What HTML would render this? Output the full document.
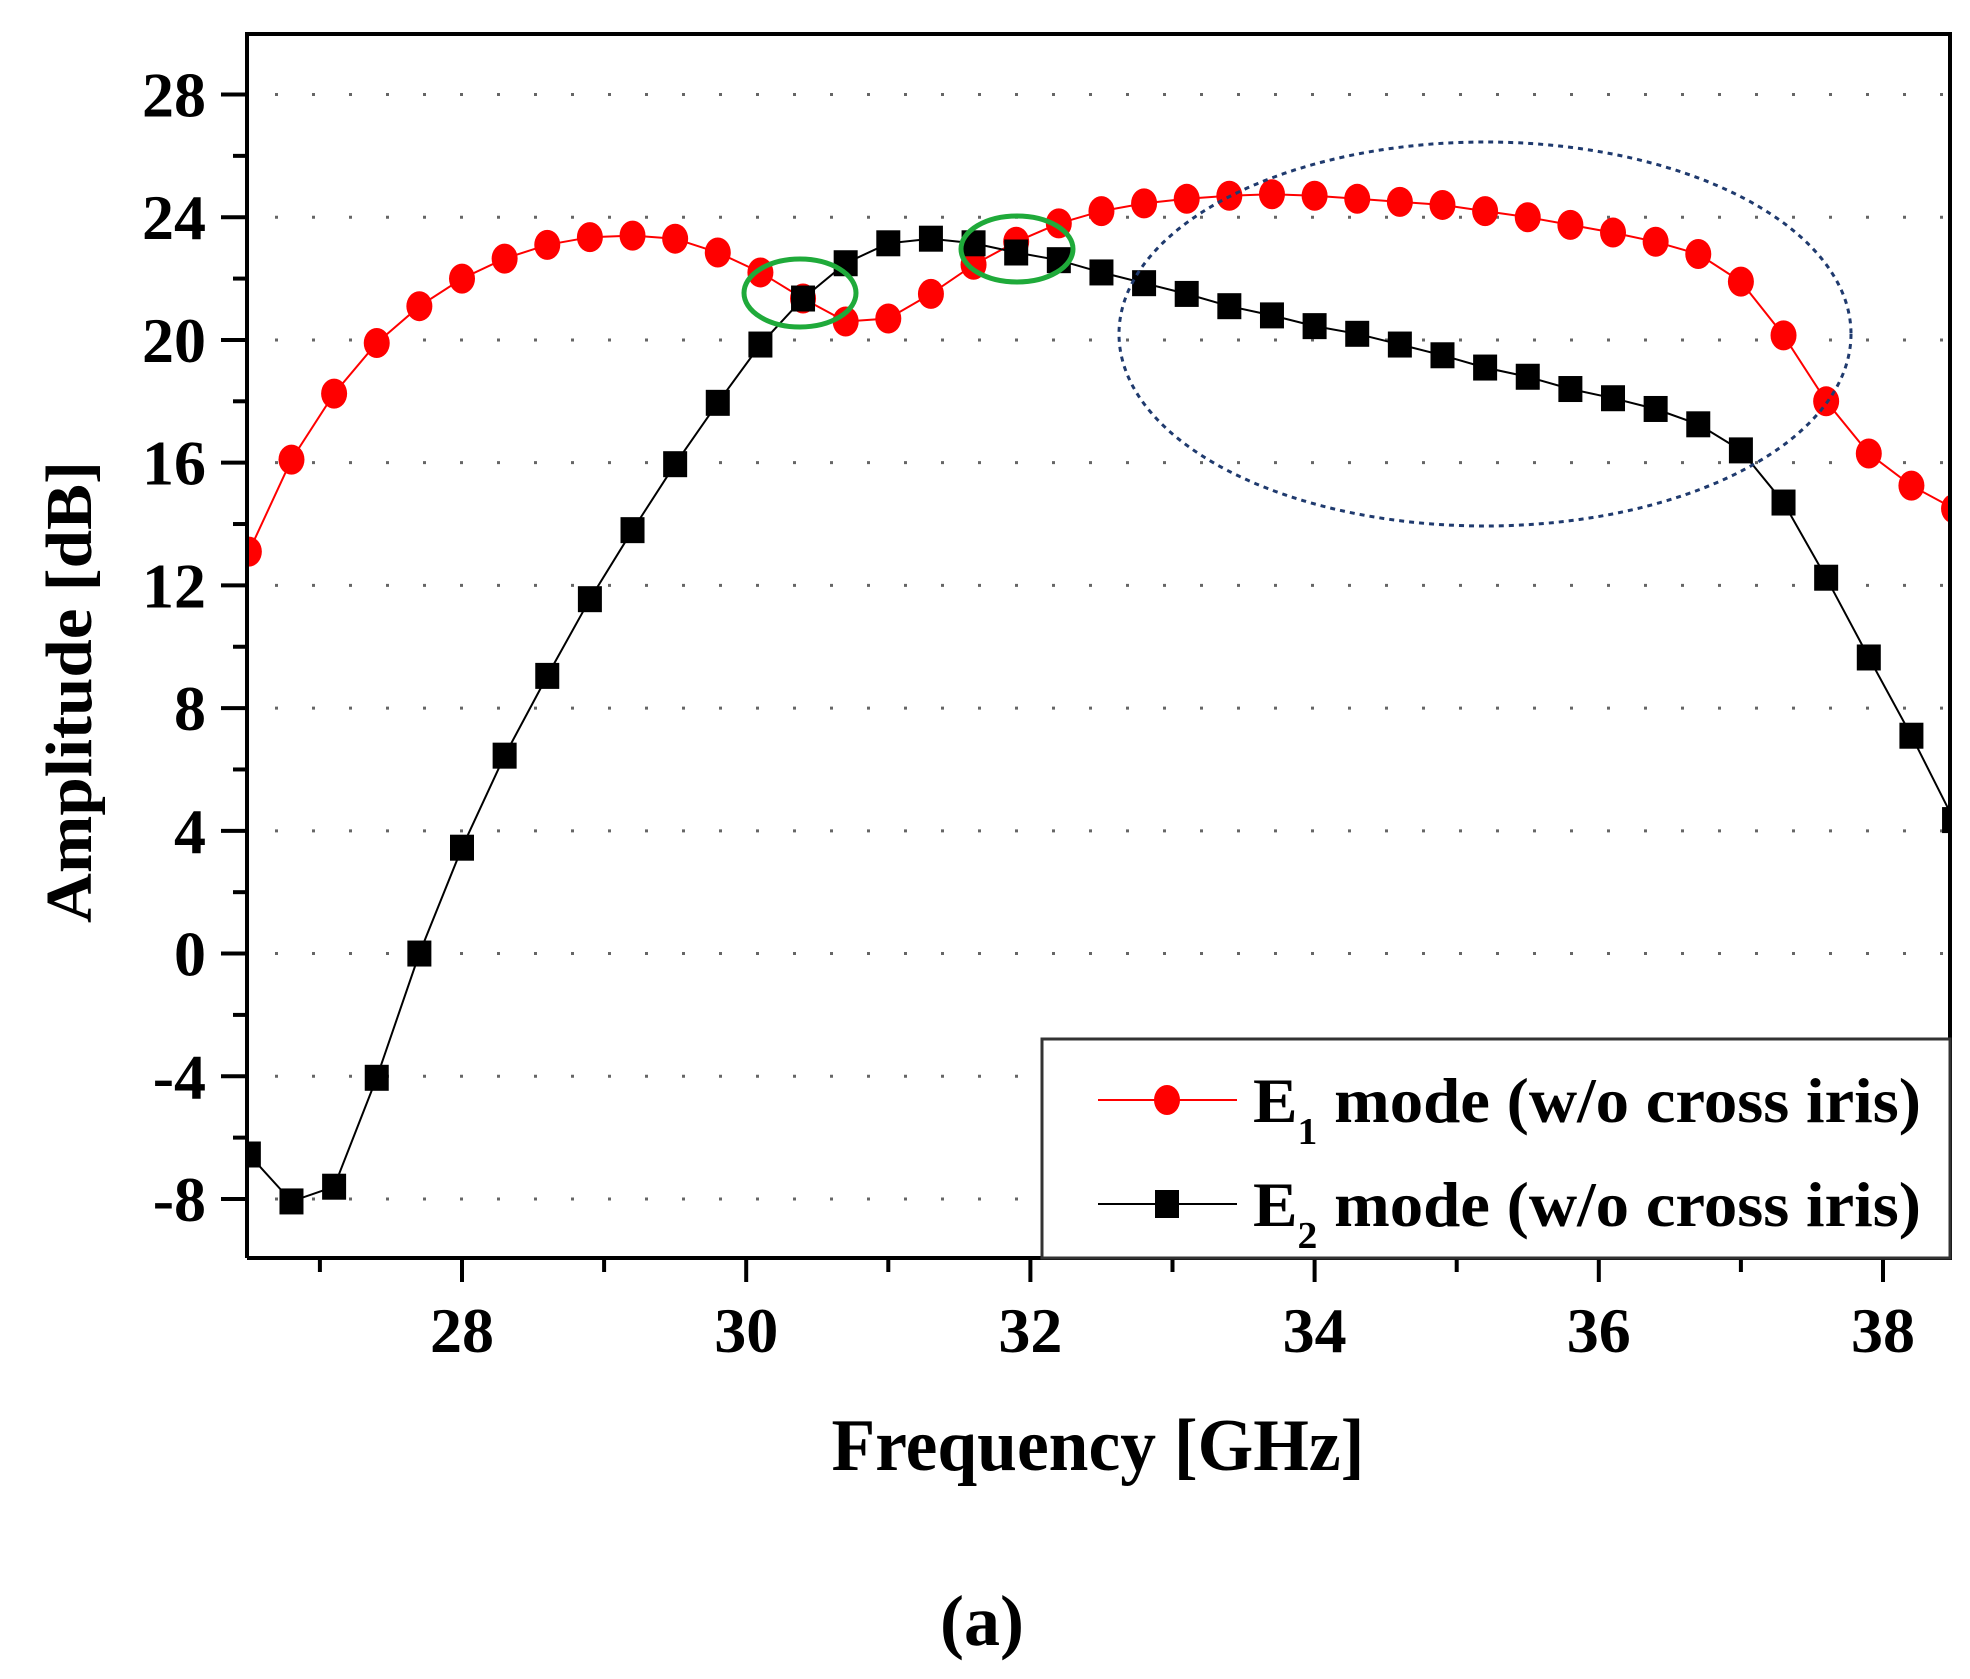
<!DOCTYPE html>
<html><head><meta charset="utf-8"><style>
html,body{margin:0;padding:0;background:#fff;}
svg{display:block;}
text{font-family:"Liberation Serif",serif;font-weight:bold;fill:#000;}
</style></head><body>
<svg id="chart" width="1970" height="1679" viewBox="0 0 1970 1679" xmlns="http://www.w3.org/2000/svg">
<defs><clipPath id="plotclip"><rect x="247" y="34" width="1703" height="1224"/></clipPath></defs>
<g id="grid"></g>
<g id="series" clip-path="url(#plotclip)"></g>
<g id="axes"></g>
<ellipse cx="800" cy="293" rx="56" ry="34" fill="none" stroke="#1faa3a" stroke-width="5"/>
<ellipse cx="1017" cy="249" rx="56" ry="33" fill="none" stroke="#1faa3a" stroke-width="5"/>
<ellipse cx="1485" cy="334" rx="366" ry="192" fill="none" stroke="#1f3a6e" stroke-width="3" stroke-dasharray="5,5"/>
<g id="legend">
<rect x="1042" y="1039" width="908" height="219" fill="#fff" stroke="#333" stroke-width="3"/>
<g>
<line x1="1098" y1="1100" x2="1237" y2="1100" stroke="#ff0000" stroke-width="2"/>
<ellipse cx="1167" cy="1100" rx="13" ry="15" fill="#ff0000"/>
<text x="1253" y="1122" font-size="64" textLength="668" lengthAdjust="spacingAndGlyphs">E<tspan font-size="38" dy="22">1</tspan><tspan dy="-22"> mode (w/o cross iris)</tspan></text>
</g>
<g>
<line x1="1098" y1="1204" x2="1237" y2="1204" stroke="#000" stroke-width="2"/>
<rect x="1155" y="1190" width="24" height="28" fill="#000"/>
<text x="1253" y="1226" font-size="64" textLength="668" lengthAdjust="spacingAndGlyphs">E<tspan font-size="38" dy="22">2</tspan><tspan dy="-22"> mode (w/o cross iris)</tspan></text>
</g>
</g>
<text x="69" y="692" font-size="66" text-anchor="middle" transform="rotate(-90 69 692)" textLength="462" lengthAdjust="spacingAndGlyphs" dy="22">Amplitude [dB]</text>
<text x="1098" y="1470" font-size="74" text-anchor="middle" textLength="533" lengthAdjust="spacingAndGlyphs">Frequency [GHz]</text>
<text x="982" y="1645" font-size="72" text-anchor="middle" font-weight="normal">(<tspan font-weight="bold">a</tspan>)</text>
</svg>
<script>
const freqs = [26.5,26.8,27.1,27.4,27.7,28.0,28.3,28.6,28.9,29.2,29.5,29.8,30.1,30.4,30.7,31.0,31.3,31.6,31.9,32.2,32.5,32.8,33.1,33.4,33.7,34.0,34.3,34.6,34.9,35.2,35.5,35.8,36.1,36.4,36.7,37.0,37.3,37.6,37.9,38.2,38.5];
const e1Values = [13.1,16.1,18.25,19.9,21.1,22.0,22.65,23.1,23.35,23.4,23.3,22.85,22.2,21.35,20.6,20.7,21.5,22.45,23.2,23.8,24.2,24.45,24.6,24.7,24.75,24.7,24.6,24.5,24.4,24.2,24.0,23.75,23.5,23.2,22.8,21.9,20.15,18.0,16.3,15.25,14.5];
const e2Values = [-6.55,-8.08,-7.6,-4.05,0.0,3.45,6.45,9.05,11.55,13.8,15.95,17.95,19.85,21.35,22.5,23.15,23.3,23.15,22.85,22.6,22.2,21.85,21.5,21.1,20.8,20.45,20.2,19.85,19.5,19.1,18.8,18.4,18.1,17.75,17.25,16.4,14.7,12.25,9.65,7.1,4.35];
const yTicks = [-8,-4,0,4,8,12,16,20,24,28];
const xTicks = [28,30,32,34,36,38];

const NS = "http://www.w3.org/2000/svg";
const L = 247, R = 1950, T = 34, B = 1258;
function xs(v){ return 462 + (v - 28) * 142.1; }
function ys(v){ return 94.5 + (28 - v) * 30.68; }
function mk(tag, attrs, parent){ const e = document.createElementNS(NS, tag); for (const k in attrs) e.setAttribute(k, attrs[k]); parent.appendChild(e); return e; }

const grid = document.getElementById('grid');
const axes = document.getElementById('axes');
const series = document.getElementById('series');

yTicks.forEach(v => {
  const g = mk('line', {x1: L, x2: R, y1: ys(v), y2: ys(v), stroke: '#666', 'stroke-width': 3, 'stroke-dasharray': '3,34', 'stroke-dashoffset': -28}, grid);
  
  
  const t = mk('line', {x1: L - 26, x2: L, y1: ys(v), y2: ys(v), stroke: '#000', 'stroke-width': 4}, axes);
  
  
  const lb = mk('text', {x: 206, y: ys(v) + 22, 'font-size': 64, 'text-anchor': 'end'}, axes);
  lb.textContent = String(v);
  
  
});
for (let v = -10; v <= 30; v += 4) {
  if (ys(v) < T || ys(v) > B) continue;
  const m = mk('line', {x1: L - 14, x2: L, y1: ys(v), y2: ys(v), stroke: '#000', 'stroke-width': 4}, axes);
  
  
}
xTicks.forEach(v => {
  const t = mk('line', {x1: xs(v), x2: xs(v), y1: B, y2: B + 24, stroke: '#000', 'stroke-width': 4}, axes);
  
  
  const lb = mk('text', {x: xs(v), y: 1352, 'font-size': 64, 'text-anchor': 'middle'}, axes);
  lb.textContent = String(v);
  
  
});
for (let v = 27; v <= 37; v += 2) {
  const m = mk('line', {x1: xs(v), x2: xs(v), y1: B, y2: B + 14, stroke: '#000', 'stroke-width': 4}, axes);
  
  
}
const frame = mk('path', {d: `M${L},${B} L${L},${T} L${R},${T} L${R},${B} L${L},${B}`, fill: 'none', stroke: '#000', 'stroke-width': 4}, axes);



function drawSeries(vals, color, shape, name){
  const pts = freqs.map((f, i) => xs(f).toFixed(1) + ',' + ys(vals[i]).toFixed(1)).join(' ');
  const pl = mk('polyline', {points: pts, fill: 'none', stroke: color, 'stroke-width': 2}, series);
  
  
  freqs.forEach((f, i) => {
    let m;
    if (shape === 'circle') m = mk('ellipse', {cx: xs(f), cy: ys(vals[i]), rx: 13, ry: 15, fill: color}, series);
    else m = mk('rect', {x: xs(f) - 12, y: ys(vals[i]) - 13, width: 24, height: 26, fill: color}, series);
    
    
  });
}
drawSeries(e1Values, '#ff0000', 'circle', 'e1-mode');
drawSeries(e2Values, '#000000', 'square', 'e2-mode');
</script>
</body></html>
